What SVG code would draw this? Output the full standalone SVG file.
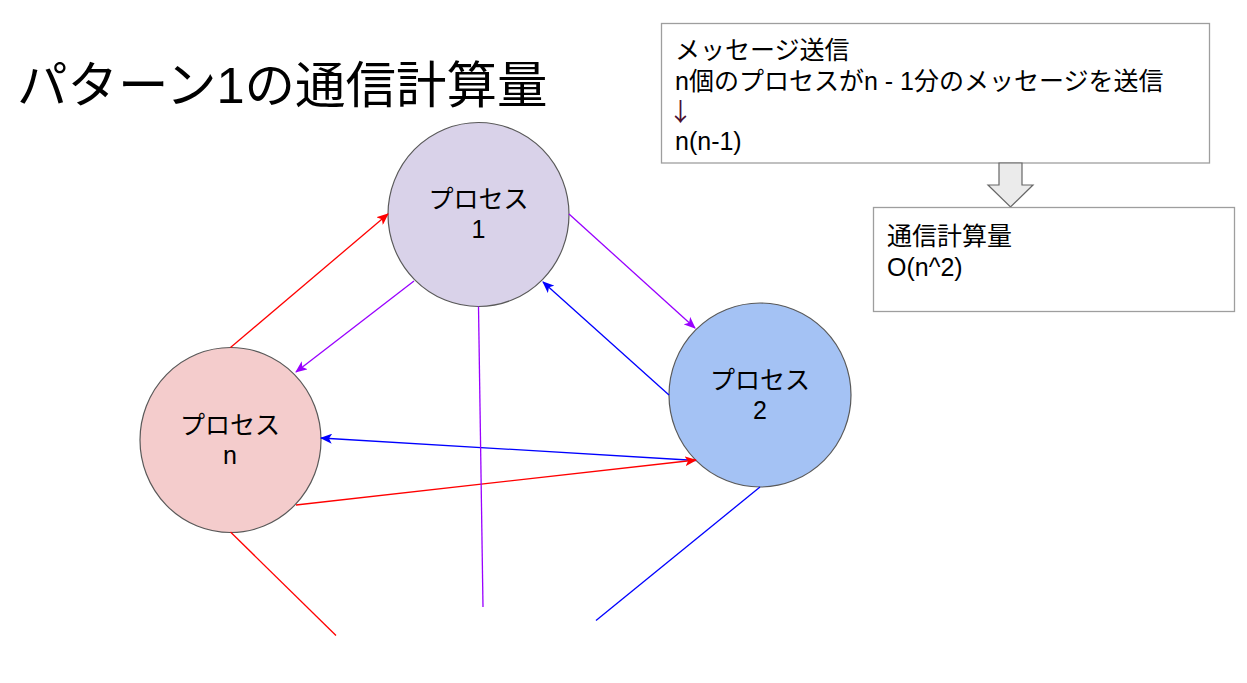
<svg xmlns="http://www.w3.org/2000/svg" width="1247" height="683" viewBox="0 0 1247 683">
<style>
text{font-family:"Liberation Sans","Noto Sans CJK JP",sans-serif;fill:#000}
.lbl{font-size:25px;text-anchor:middle}
.box{fill:#fff;stroke:#9e9e9e;stroke-width:1.3}
.bt{font-size:25px}
.node{stroke:#595959;stroke-width:1.2}
.c line{stroke-width:1.3;fill:none}
.r{stroke:#ff0000}.p{stroke:#9900ff}.b{stroke:#0000ff}
</style>
<defs>
<marker id="ar" viewBox="0 0 12 10" markerWidth="12" markerHeight="10" refX="11" refY="5" orient="auto" markerUnits="userSpaceOnUse"><path d="M0,0 L12,5 L0,10 L3,5 z" fill="#ff0000"/></marker>
<marker id="ap" viewBox="0 0 12 10" markerWidth="12" markerHeight="10" refX="11" refY="5" orient="auto" markerUnits="userSpaceOnUse"><path d="M0,0 L12,5 L0,10 L3,5 z" fill="#9900ff"/></marker>
<marker id="ab" viewBox="0 0 12 10" markerWidth="12" markerHeight="10" refX="11" refY="5" orient="auto" markerUnits="userSpaceOnUse"><path d="M0,0 L12,5 L0,10 L3,5 z" fill="#0000ff"/></marker>
</defs>
<rect width="1247" height="683" fill="#fff"/>
<text id="title" x="17" y="103" style="font-size:50.5px">パターン1の通信計算量</text>

<g id="box1">
<rect class="box" x="661.5" y="23.5" width="548" height="139.5"/>
<text class="bt" x="675" y="59">メッセージ送信</text>
<text class="bt" x="675" y="90">n個のプロセスがn - 1分のメッセージを送信</text>
<text class="bt" x="668" y="121" style="font-family:'Noto Sans CJK JP',sans-serif;fill:#4a1030">↓</text>
<text class="bt" x="675" y="150">n(n-1)</text>
</g>
<g id="hollow-arrow">
<path d="M999,163 L1022,163 L1022,185 L1033,185 L1010.5,207 L988,185 L999,185 z" fill="#ebebeb" stroke="#666" stroke-width="1.2"/>
</g>
<g id="box2">
<rect class="box" x="873.5" y="207.5" width="361" height="104"/>
<text class="bt" x="887" y="245">通信計算量</text>
<text class="bt" x="887" y="276">O(n^2)</text>
</g>

<g id="node1">
<ellipse class="node" cx="478.5" cy="214.5" rx="90.5" ry="92" fill="#d9d2e9"/>
<text class="lbl" x="478.5" y="208">プロセス</text>
<text class="lbl" x="478.5" y="238">1</text>
</g>
<g id="node2">
<ellipse class="node" cx="760" cy="395" rx="91" ry="92" fill="#a4c2f4"/>
<text class="lbl" x="760" y="389">プロセス</text>
<text class="lbl" x="760" y="419">2</text>
</g>
<g id="noden">
<ellipse class="node" cx="230.5" cy="440" rx="90.5" ry="92.5" fill="#f4cccc"/>
<text class="lbl" x="230" y="434">プロセス</text>
<text class="lbl" x="230" y="464">n</text>
</g>

<g id="connectors" class="c">
<line class="r" x1="230.5" y1="347.5" x2="388" y2="214" marker-end="url(#ar)"/>
<line class="p" x1="569" y1="214" x2="695" y2="328" marker-end="url(#ap)"/>
<line class="b" x1="669" y1="395" x2="543" y2="282" marker-end="url(#ab)"/>
<line class="p" x1="414" y1="281" x2="296" y2="372" marker-end="url(#ap)"/>
<line class="b" x1="696" y1="460.5" x2="321" y2="438" marker-end="url(#ab)"/>
<line class="r" x1="296" y1="505" x2="696" y2="460" marker-end="url(#ar)"/>
<line class="p" x1="478.5" y1="306.5" x2="483" y2="607"/>
<line class="r" x1="230.5" y1="532" x2="336" y2="635.5"/>
<line class="b" x1="760" y1="487" x2="596" y2="620.5"/>
</g>
</svg>
